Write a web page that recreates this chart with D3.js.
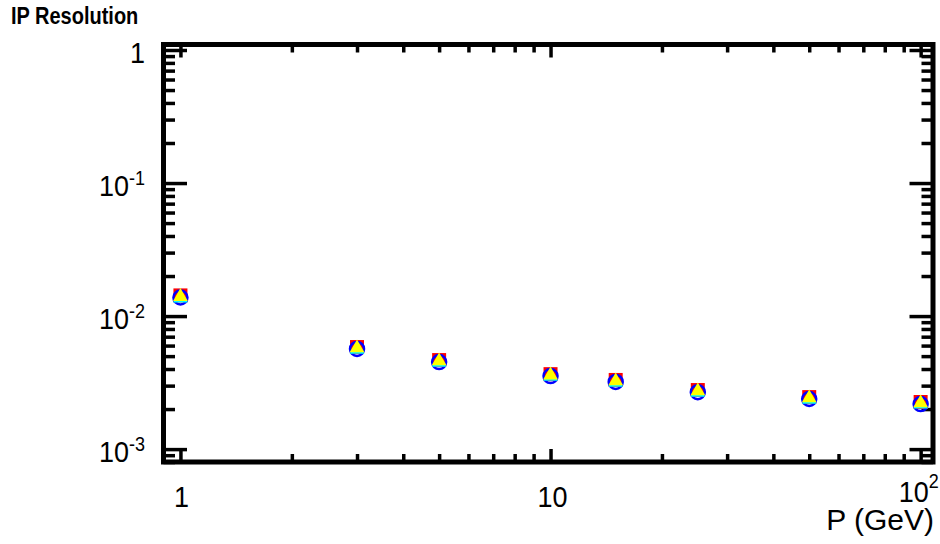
<!DOCTYPE html>
<html>
<head>
<meta charset="utf-8">
<script src="https://cdn.jsdelivr.net/npm/d3@7"></script>
<style>
  body { margin: 0; background: #fff; }
  text { font-family: "Liberation Sans", Arial, sans-serif; fill: #000; }
</style>
</head>
<body>
<script>
// momentum points (GeV)
var momentum = [1, 3, 5, 10, 15, 25, 50, 100];

// resolution per series
var redSquares   = [0.0143, 0.00585, 0.00467, 0.00366, 0.00331, 0.00278, 0.00246, 0.00226];
var blueCircles  = [0.0138, 0.00566, 0.00451, 0.00354, 0.00320, 0.00268, 0.00238, 0.00218];
var cyanTris     = [0.0136, 0.00560, 0.00448, 0.00351, 0.00317, 0.00266, 0.00236, 0.00217];
var yellowTris   = [0.0140, 0.00575, 0.00459, 0.00360, 0.00325, 0.00273, 0.00242, 0.00222];

var xMajor = [1, 10, 100];
var xMinor = [0.9, 2, 3, 4, 5, 6, 7, 8, 9, 20, 30, 40, 50, 60, 70, 80, 90];
var yMajor = [1, 0.1, 0.01, 0.001];
var yMinor = [0.0008, 0.0009];
[0.001, 0.01, 0.1].forEach(function(d) {
  for (var k = 2; k <= 9; k++) yMinor.push(+(d * k).toPrecision(3));
});

var yLabels = [
  {v: 1, base: "1", exp: ""},
  {v: 0.1, base: "10", exp: "-1"},
  {v: 0.01, base: "10", exp: "-2"},
  {v: 0.001, base: "10", exp: "-3"}
];

var frame = {left: 163.5, right: 933, top: 44.5, bottom: 462};

var x = d3.scaleLog()
    .domain([0.9, 108])
    .range([frame.left, frame.right]);

var y = d3.scaleLog()
    .domain([0.0008, 1.1])
    .range([frame.bottom, frame.top]);

var svg = d3.select("body").append("svg")
    .attr("width", 940)
    .attr("height", 544);

function tickAxis(axis, values, size) {
  return axis.tickValues(values).tickSizeInner(size).tickSizeOuter(0).tickFormat("");
}

function drawAxis(axis, tx, ty) {
  var g = svg.append("g")
      .attr("transform", "translate(" + tx + "," + ty + ")")
      .call(axis);
  g.select(".domain").remove();
  g.selectAll("line").attr("stroke", "#000").attr("stroke-width", 3.5);
}

// bottom + top ticks (pointing inwards)
drawAxis(tickAxis(d3.axisBottom(x), xMajor, -13), 0, frame.bottom);
drawAxis(tickAxis(d3.axisBottom(x), xMinor, -8), 0, frame.bottom);
drawAxis(tickAxis(d3.axisTop(x), xMajor, -13), 0, frame.top);
drawAxis(tickAxis(d3.axisTop(x), xMinor, -8), 0, frame.top);

// left + right ticks
drawAxis(tickAxis(d3.axisLeft(y), yMajor, -23.5), frame.left, 0);
drawAxis(tickAxis(d3.axisLeft(y), yMinor, -11.5), frame.left, 0);
drawAxis(tickAxis(d3.axisRight(y), yMajor, -23.5), frame.right, 0);
drawAxis(tickAxis(d3.axisRight(y), yMinor, -11.5), frame.right, 0);

svg.append("rect")
    .attr("x", frame.left)
    .attr("y", frame.top)
    .attr("width", frame.right - frame.left)
    .attr("height", frame.bottom - frame.top)
    .attr("fill", "none")
    .attr("stroke", "#000")
    .attr("stroke-width", 5);

// y tick labels
var yl = svg.selectAll(".ylab")
    .data(yLabels)
  .enter().append("text")
    .attr("class", "ylab")
    .attr("text-anchor", "end")
    .attr("transform", function(d) { return "translate(145," + (y(d.v) + 12.5) + ") scale(1,1.1)"; })
    .style("font-size", "27px");
yl.append("tspan").text(function(d) { return d.base; });
yl.append("tspan")
    .attr("dy", -10)
    .style("font-size", "18px")
    .text(function(d) { return d.exp; });

// x tick labels
svg.append("text")
    .attr("text-anchor", "middle")
    .attr("transform", "translate(" + (x(1) + 1) + ",507) scale(1,1.1)")
    .style("font-size", "27px")
    .text("1");

svg.append("text")
    .attr("text-anchor", "middle")
    .attr("transform", "translate(" + (x(10) + 2) + ",507) scale(1,1.1)")
    .style("font-size", "27px")
    .text("10");

var x100 = svg.append("text")
    .attr("text-anchor", "start")
    .attr("transform", "translate(" + (x(100) - 22) + ",502) scale(1,1.1)")
    .style("font-size", "27px");
x100.append("tspan").text("10");
x100.append("tspan").attr("dy", -13).style("font-size", "18px").text("2");

// axis title
svg.append("text")
    .attr("text-anchor", "end")
    .attr("x", 934)
    .attr("y", 530)
    .style("font-size", "30px")
    .text("P (GeV)");

// plot title
svg.append("text")
    .attr("transform", "translate(11,24) scale(1,1.17)")
    .style("font-size", "20px")
    .style("font-weight", "bold")
    .text("IP Resolution");

// markers
var pts = function(vals) {
  return momentum.map(function(m, i) { return {p: m, r: vals[i]}; });
};

svg.selectAll(".sq")
    .data(pts(redSquares))
  .enter().append("path")
    .attr("class", "sq")
    .attr("d", d3.symbol(d3.symbolSquare, 196))
    .attr("transform", function(d) { return "translate(" + x(d.p) + "," + y(d.r) + ")"; })
    .attr("fill", "#ff0000");

svg.selectAll(".ci")
    .data(pts(blueCircles))
  .enter().append("circle")
    .attr("class", "ci")
    .attr("cx", function(d) { return x(d.p); })
    .attr("cy", function(d) { return y(d.r); })
    .attr("r", 7)
    .attr("fill", "none")
    .attr("stroke", "#0000ff")
    .attr("stroke-width", 2.5);

svg.selectAll(".ct")
    .data(pts(cyanTris))
  .enter().append("path")
    .attr("class", "ct")
    .attr("d", d3.symbol(d3.symbolTriangle, 95))
    .attr("transform", function(d) { return "translate(" + x(d.p) + "," + y(d.r) + ")"; })
    .attr("fill", "#00ffff");

svg.selectAll(".yt")
    .data(pts(yellowTris))
  .enter().append("path")
    .attr("class", "yt")
    .attr("d", d3.symbol(d3.symbolTriangle, 95))
    .attr("transform", function(d) { return "translate(" + x(d.p) + "," + y(d.r) + ")"; })
    .attr("fill", "#ffff00");
</script>
</body>
</html>
